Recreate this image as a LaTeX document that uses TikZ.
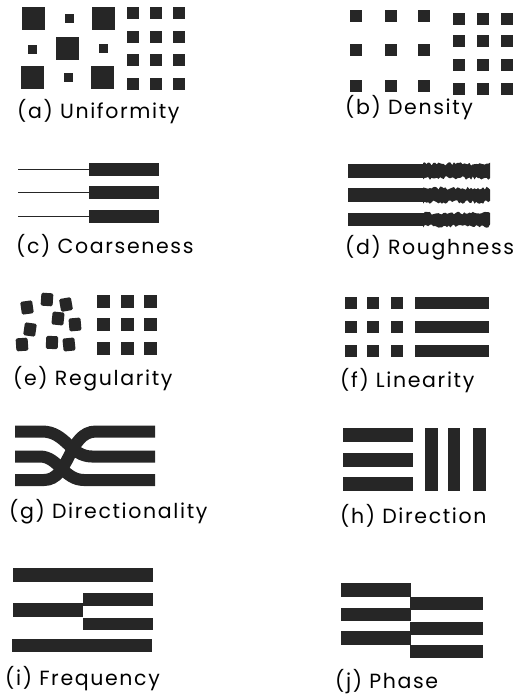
\documentclass[tikz,border=0pt]{standalone}
\usepackage{fontspec}
\newfontfamily\labfont[LetterSpace=8]{Poppins}
\usetikzlibrary{positioning}
\tikzset{
  blk/.style={fill=black!85},
  thinln/.style={draw=black!85,line width=1.4pt},
  band/.style={draw=black!85,line width=12pt},
  lab/.style={font=\labfont\fontsize{20.5}{25}\selectfont,anchor=west,inner sep=0pt},
}

\begin{document}
\begin{tikzpicture}[x=1pt,y=-1pt]
  \useasboundingbox (0,0) rectangle (520,698);
  % (a) uniformity
  \foreach \x/\y in {22/7,92/7,56/37,21/66,91/66}
    \fill[blk] (\x,\y) rectangle ++(23,23);
  \foreach \x/\y in {65/14,28/45,99/44,64/73}
    \fill[blk] (\x,\y) rectangle ++(9,9);
  \foreach \x in {127,150,173}
    \foreach \y in {7,31,54,78}
      \fill[blk] (\x,\y) rectangle ++(12,12);
  \node[lab] (la) at (17,112) {(a) Uniformity};
  % (b) density
  \foreach \x in {350,385,418}
    \foreach \y in {10,44,80}
      \fill[blk] (\x,\y) rectangle ++(12,12);
  \foreach \x in {453,477,501}
    \foreach \y in {13,35,59,83}
      \fill[blk] (\x,\y) rectangle ++(12,12);
  \node[lab] (lb) at (345,108) {(b) Density};
  % (c) coarseness
  \foreach \y in {163,186,210}{
    \fill[blk] (89,\y) rectangle ++(70,13);
    \draw[thinln] (18,\y+6.5) -- (89,\y+6.5);
  }
  \node[lab] (lc) at (16,246) {(c) Coarseness};
  % (d) roughness, smooth left half and ragged right half
  \pgfmathsetseed{17}
  \foreach \t/\b in {164/178,188/202,213/226}{
    \fill[blk] (348,\t) rectangle (424,\b);
    \fill[blk] (423,\t) -- plot[domain=423:490,samples=40] (\x,{\t+1.7*rand})
      -- plot[domain=490:423,samples=40] (\x,{\b+1.7*rand}) -- cycle;
  }
  \node[lab] (ld) at (345,248) {(d) Roughness};
  % (e) regularity
  \foreach \x/\y/\r in {21/301/8,41/293/-4,60/298/10,52/312/-6,69/318/5,24/323/-8,16/338/4,46/336/-3,63/338/6}
    \fill[blk,rounded corners=1.5pt,rotate around={\r:(\x+6,\y+6.5)}] (\x,\y) rectangle ++(12,13);
  \foreach \x in {97,121,144}
    \foreach \y in {295,318,342}
      \fill[blk] (\x,\y) rectangle ++(13,12.5);
  \node[lab] (le) at (13,379) {(e) Regularity};
  % (f) linearity
  \foreach \y in {297,321,345}{
    \foreach \x in {345,367,391}
      \fill[blk] (\x,\y) rectangle ++(12,12);
    \fill[blk] (415,\y) rectangle (489,\y+12);
  }
  \node[lab] (lf) at (340,381) {(f) Linearity};
  % (g) directionality
  \draw[band] (15,431.5) -- (42,431.5) .. controls (66,431.5) and (70,456.5) .. (92,456.5) -- (155,456.5);
  \draw[band] (15,456.5) -- (40,456.5) .. controls (58,456.5) and (64,480) .. (84,480) -- (155,480);
  \draw[band] (15,480) -- (44,480) .. controls (70,480) and (68,431.5) .. (96,431.5) -- (155,431.5);
  \node[lab] (lg) at (9,512) {(g) Directionality};
  % (h) direction
  \foreach \y in {428,453,477}
    \fill[blk] (343,\y) rectangle ++(70,14);
  \foreach \x in {425,447.5,473}
    \fill[blk] (\x,428) rectangle ++(12.5,63);
  \node[lab] (lh) at (340,516) {(h) Direction};
  % (i) frequency
  \fill[blk] (13,568) rectangle (153,582);
  \fill[blk] (13,603) rectangle (83,617);
  \fill[blk] (83,593) rectangle (153,606);
  \fill[blk] (83,617.5) rectangle (153,630);
  \fill[blk] (12,639) rectangle (152,652);
  \node[lab] (li) at (5,679) {(i) Frequency};
  % (j) phase
  \foreach \y in {583,607.5,631}{
    \fill[blk] (341,\y) rectangle ++(70,13.5);
    \fill[blk] (410,\y+14) rectangle ++(73,13);
  }
  \node[lab] (lj) at (335,682) {(j) Phase};
\end{tikzpicture}
\end{document}
